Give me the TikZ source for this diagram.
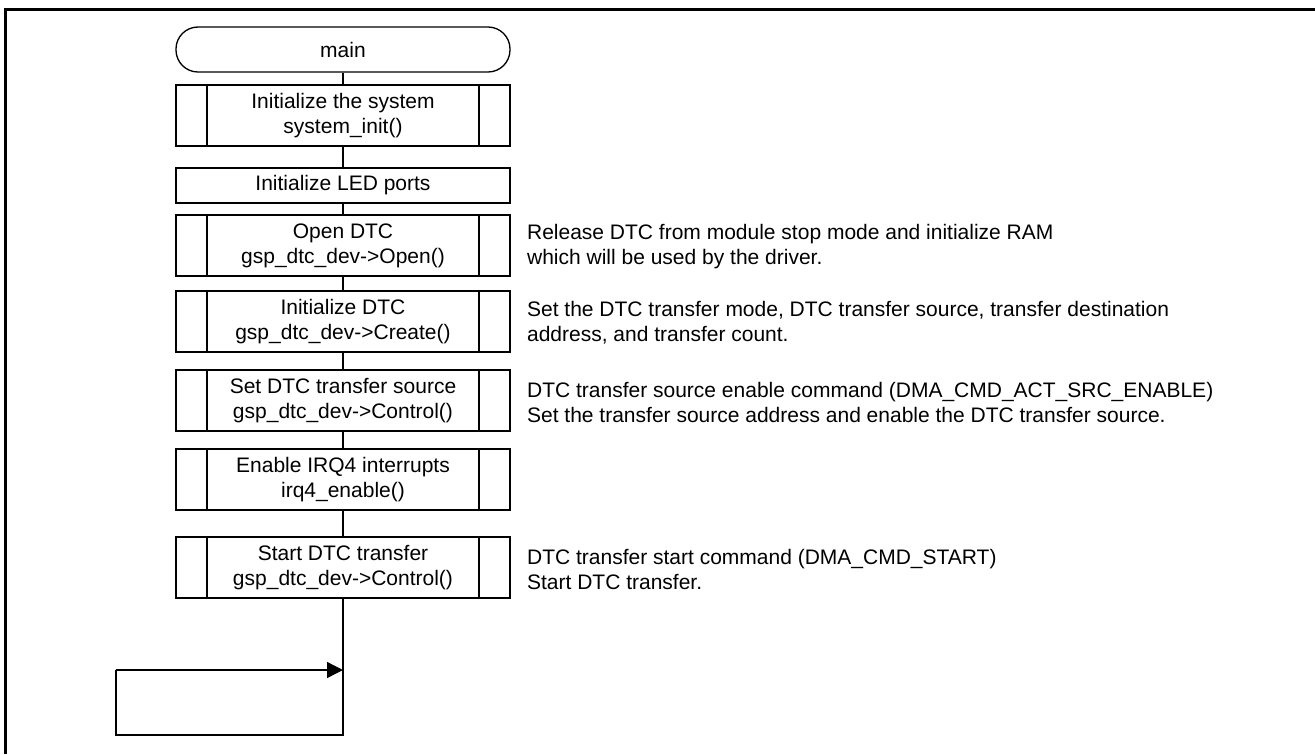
\documentclass[tikz,border=0pt]{standalone}
\usepackage{fontspec}
\setmainfont{Liberation Sans}
\usetikzlibrary{arrows.meta}

\begin{document}
\begin{tikzpicture}[x=0.75pt,y=-0.75pt,line width=1pt,
    font=\fontsize{15.75}{18.75}\selectfont,
    box/.style={draw,inner sep=0pt,minimum width=250.5pt,minimum height=45.75pt,align=center},
    subbox/.style={box,path picture={
      \draw ([xshift=23.25pt]path picture bounding box.north west) -- ([xshift=23.25pt]path picture bounding box.south west)
            ([xshift=-23.25pt]path picture bounding box.north east) -- ([xshift=-23.25pt]path picture bounding box.south east);}},
    note/.style={anchor=west,align=left}]
  \useasboundingbox (0,0) rectangle (1315,754);
  \draw[line width=2.25pt] (5,754) -- (5,9) -- (1315,9);

  % flow
  \node[box,rounded corners=16.5pt,minimum height=33.75pt] (main) at (343,49.5) {main};
  \node[subbox] (sys) at (343,115.5) {Initialize the system\\system\_init()};
  \node[box,minimum height=26.25pt] (led) at (343,185.5) {Initialize LED ports};
  \node[subbox] (open) at (343,245.5) {Open DTC\\gsp\_dtc\_dev->Open()};
  \node[subbox] (init) at (343,321.5) {Initialize DTC\\gsp\_dtc\_dev->Create()};
  \node[subbox] (src) at (343,400.5) {Set DTC transfer source\\gsp\_dtc\_dev->Control()};
  \node[subbox] (irq) at (343,479.5) {Enable IRQ4 interrupts\\irq4\_enable()};
  \node[subbox] (start) at (343,567.5) {Start DTC transfer\\gsp\_dtc\_dev->Control()};

  \foreach \a/\b in {main/sys,sys/led,led/open,open/init,init/src,src/irq,irq/start}
    \draw (\a) -- (\b);

  % endless loop
  \coordinate (loopb) at (343,735);
  \coordinate (loopl) at (116,735);
  \coordinate (loopt) at (116,670);
  \coordinate (looptip) at (343,670);
  \draw (start) -- (loopb) -- (loopl) -- (loopt);
  \draw[-{Triangle[length=12pt,width=12pt]}] (loopt) -- (looptip);

  % notes
  \node[note] (nopen) at (522,247) {Release DTC from module stop mode and initialize RAM\\which will be used by the driver.};
  \node[note] (ninit) at (522,323) {Set the DTC transfer mode, DTC transfer source, transfer destination\\address, and transfer count.};
  \node[note] (nsrc) at (522,402) {DTC transfer source enable command (DMA\_CMD\_ACT\_SRC\_ENABLE)\\Set the transfer source address and enable the DTC transfer source.};
  \node[note] (nstart) at (522,569) {DTC transfer start command (DMA\_CMD\_START)\\Start DTC transfer.};
\end{tikzpicture}
\end{document}
